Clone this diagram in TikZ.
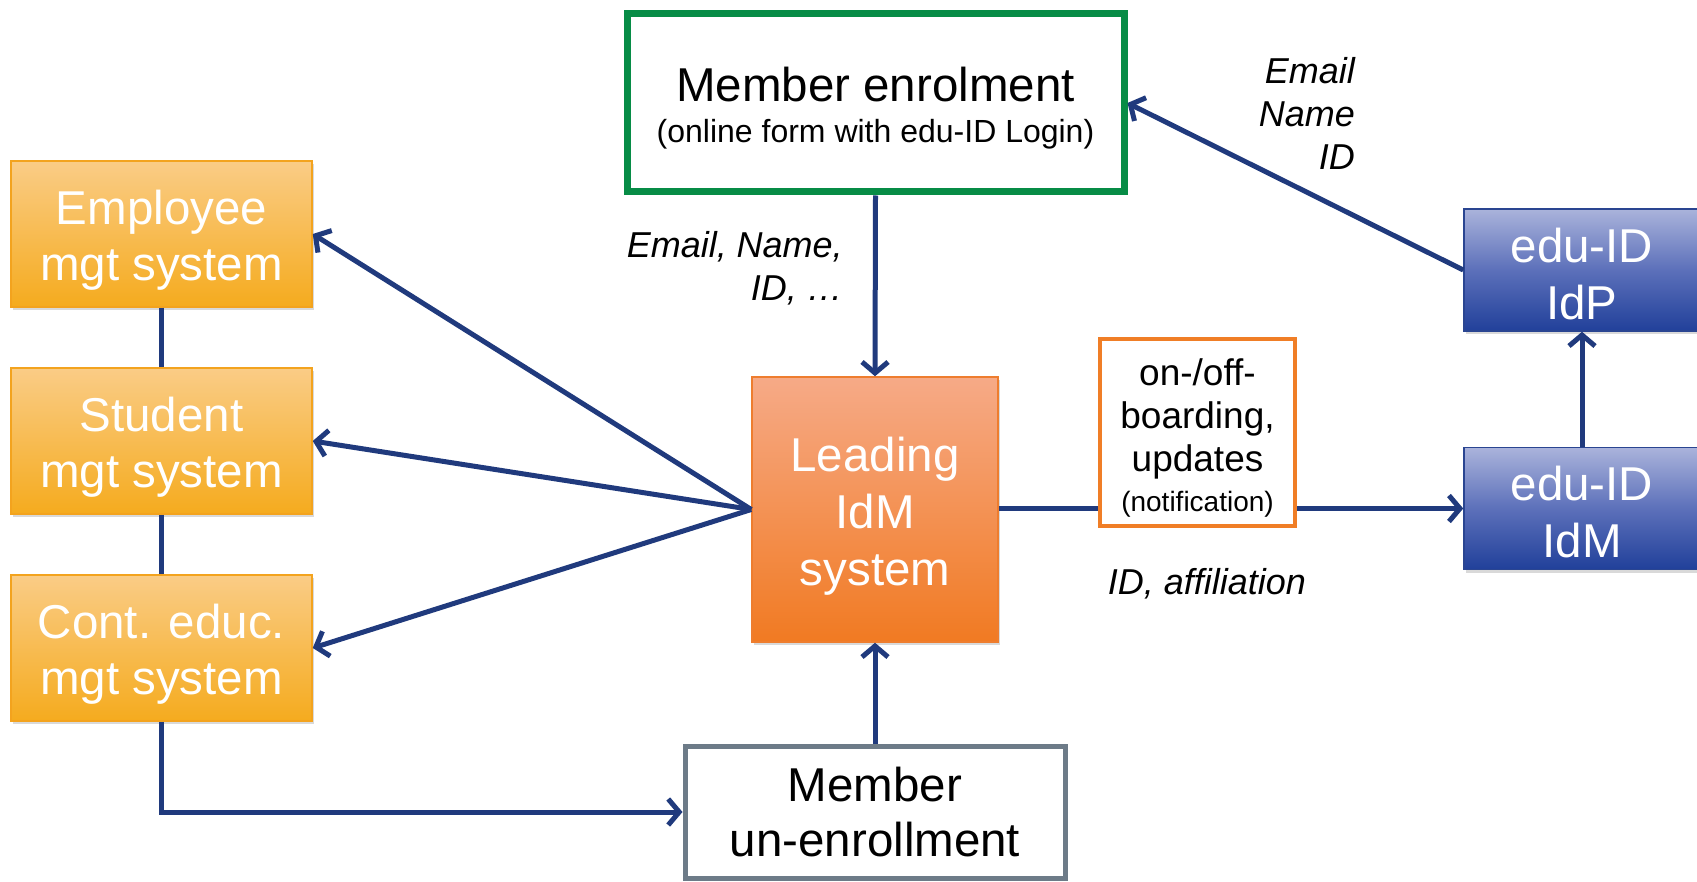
\documentclass[tikz,border=0pt]{standalone}
\usepackage{fontspec}
\setmainfont{Liberation Sans}
\usetikzlibrary{arrows.meta,shadows}
\definecolor{navy}{RGB}{32,58,125}
\definecolor{otop}{RGB}{250,204,134}
\definecolor{obot}{RGB}{245,171,30}
\definecolor{oline}{RGB}{243,163,30}
\definecolor{ltop}{RGB}{246,170,135}
\definecolor{lbot}{RGB}{241,122,34}
\definecolor{lline}{RGB}{238,125,46}
\definecolor{btop}{RGB}{170,179,219}
\definecolor{bmid}{RGB}{92,112,186}
\definecolor{bbot}{RGB}{33,64,154}
\definecolor{bline}{RGB}{42,69,145}
\definecolor{egreen}{RGB}{7,140,70}
\definecolor{oborder}{RGB}{240,126,38}
\definecolor{gborder}{RGB}{109,123,136}
\newcommand{\lift}[1]{\rule{0pt}{#1}}
\begin{document}
\begin{tikzpicture}[x=1pt,y=-1pt,
  shad/.style={drop shadow={shadow xshift=2pt,shadow yshift=-3pt,opacity=0.25,fill=black!60}},
  obox/.style={rectangle,inner sep=0pt,minimum width=301pt,minimum height=146pt,
    top color=otop,bottom color=obot,draw=oline,line width=1.5pt,text=white,align=center,
    font=\fontsize{47.5}{56}\selectfont,shad},
  bbox/.style={rectangle,inner sep=0pt,minimum width=236pt,minimum height=122pt,
    top color=btop,bottom color=bbot,middle color=bmid,draw=bline,line width=1.5pt,text=white,align=center,
    font=\fontsize{47.5}{57}\selectfont,shad},
  conn/.style={draw=navy,line width=5pt},
  arr/.style={conn,-{Straight Barb[length=11pt,width=26pt]}},
  lbl/.style={font=\fontsize{36}{43}\selectfont\itshape,inner sep=0pt}
]
\useasboundingbox (0,0) rectangle (1697,882);

\node[obox] (emp) at (161.5,234) {\lift{47pt}Employee\\mgt system};
\node[obox] (stu) at (161.5,441) {\lift{47pt}Student\\mgt system};
\node[obox] (cont) at (161.5,648) {\lift{47pt}Cont. educ.\\mgt system};

\node[rectangle,inner sep=0pt,minimum width=497pt,minimum height=178pt,draw=egreen,line width=7pt,
  fill=white,align=center,font=\fontsize{32}{41}\selectfont,shad] (enrol) at (875.5,103)
  {\lift{45pt}{\fontsize{47.5}{50}\selectfont Member enrolment}\\(online form with edu-ID Login)};

\node[rectangle,inner sep=0pt,minimum width=246pt,minimum height=265pt,top color=ltop,bottom color=lbot,
  draw=lline,line width=1.5pt,text=white,align=center,font=\fontsize{47.5}{57}\selectfont,shad]
  (lead) at (875,509.5) {\lift{47pt}Leading\\IdM\\system};

\node[bbox] (idp) at (1582,270) {\lift{42pt}edu-ID\\IdP};
\node[bbox] (idm) at (1582,508.5) {\lift{42pt}edu-ID\\IdM};

\node[rectangle,inner sep=0pt,minimum width=380pt,minimum height=132pt,draw=gborder,line width=5pt,
  fill=white,align=center,font=\fontsize{47.5}{55}\selectfont,shad] (unenr) at (875,812)
  {Member\\un-enrollment};

\draw[arr] (lead.east |- idm.west) -- (idm.west);

\node[rectangle,inner sep=0pt,minimum width=195pt,minimum height=187pt,draw=oborder,line width=4.5pt,
  fill=white,align=center,font=\fontsize{37}{43}\selectfont] (onoff) at (1197.5,432.5)
  {\lift{38pt}on-/off-\\boarding,\\updates\\[-3pt]{\fontsize{28}{34}\selectfont (notification)}};

\draw[conn] (emp) -- (stu);
\draw[conn] (stu) -- (cont);
\draw[arr] (lead.west) -- (emp.east);
\draw[arr] (lead.west) -- (stu.east);
\draw[arr] (lead.west) -- (cont.east);
\draw[arr] (enrol.south) -- (lead.north);
\draw[arr] (unenr.north) -- (lead.south);
\draw[arr] (cont.south) |- (unenr.west);
\draw[arr] (idm.north) -- (idp.south);
\draw[arr] (idp.west) -- (enrol.east);

\node[lbl,align=right,anchor=east] (l1) at (843,268) {Email, Name,\\ID, \ldots};
\node[lbl,align=right,anchor=east] (l2) at (1355,113) {Email\\Name\\ID};
\node[lbl] (l3) at (1207,584) {ID, affiliation};
\end{tikzpicture}
\end{document}
